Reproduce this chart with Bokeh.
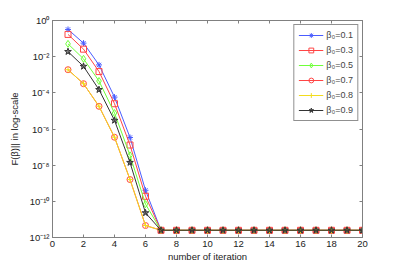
from bokeh.plotting import figure
from bokeh.models import (Range1d, FixedTicker, CustomJSTickFormatter, LinearAxis,
                          LogAxis)
from bokeh.embed import file_html
from bokeh.resources import INLINE

iterations = [1, 2, 3, 4, 5, 6, 7, 8, 9, 10, 11, 12, 13, 14, 15, 16, 17, 18, 19, 20]

f_beta_01 = [3.2e-1, 5.6e-2, 3.5e-3, 5.8e-5, 3.4e-7, 4.1e-10, 2.5e-12, 2.5e-12, 2.5e-12, 2.5e-12,
             2.5e-12, 2.5e-12, 2.5e-12, 2.5e-12, 2.5e-12, 2.5e-12, 2.5e-12, 2.5e-12, 2.5e-12, 2.5e-12]
f_beta_03 = [1.7e-1, 2.6e-2, 1.5e-3, 2.5e-5, 1.3e-7, 1.9e-10, 2.5e-12, 2.5e-12, 2.5e-12, 2.5e-12,
             2.5e-12, 2.5e-12, 2.5e-12, 2.5e-12, 2.5e-12, 2.5e-12, 2.5e-12, 2.5e-12, 2.5e-12, 2.5e-12]
f_beta_05 = [5.1e-2, 7.6e-3, 4.5e-4, 7.6e-6, 3.5e-8, 7.0e-11, 2.5e-12, 2.5e-12, 2.5e-12, 2.5e-12,
             2.5e-12, 2.5e-12, 2.5e-12, 2.5e-12, 2.5e-12, 2.5e-12, 2.5e-12, 2.5e-12, 2.5e-12, 2.5e-12]
f_beta_07 = [1.9e-3, 3.2e-4, 1.8e-5, 3.5e-7, 1.6e-9, 4.6e-12, 2.5e-12, 2.5e-12, 2.5e-12, 2.5e-12,
             2.5e-12, 2.5e-12, 2.5e-12, 2.5e-12, 2.5e-12, 2.5e-12, 2.5e-12, 2.5e-12, 2.5e-12, 2.5e-12]
f_beta_08 = [1.9e-3, 3.2e-4, 1.8e-5, 3.5e-7, 1.6e-9, 4.6e-12, 2.5e-12, 2.5e-12, 2.5e-12, 2.5e-12,
             2.5e-12, 2.5e-12, 2.5e-12, 2.5e-12, 2.5e-12, 2.5e-12, 2.5e-12, 2.5e-12, 2.5e-12, 2.5e-12]
f_beta_09 = [1.9e-2, 2.9e-3, 1.5e-4, 3.0e-6, 1.4e-8, 2.3e-11, 2.5e-12, 2.5e-12, 2.5e-12, 2.5e-12,
             2.5e-12, 2.5e-12, 2.5e-12, 2.5e-12, 2.5e-12, 2.5e-12, 2.5e-12, 2.5e-12, 2.5e-12, 2.5e-12]

labels = ["β₀=0.1", "β₀=0.3", "β₀=0.5", "β₀=0.7", "β₀=0.8", "β₀=0.9"]
x_ticks = [0, 2, 4, 6, 8, 10, 12, 14, 16, 18, 20]
y_ticks = [1e0, 1e-2, 1e-4, 1e-6, 1e-8, 1e-10, 1e-12]

FONT = "Liberation Sans"
AXC = "#808080"

p = figure(width=399, height=268, output_backend="svg", toolbar_location=None,
           y_axis_type="log", x_range=Range1d(0, 20), y_range=Range1d(1e-12, 1),
           min_border_left=52, min_border_right=37, min_border_top=20, min_border_bottom=31)
p.xgrid.visible = False
p.ygrid.visible = False
p.outline_line_color = AXC
p.background_fill_color = "white"
p.border_fill_color = "white"

sup = CustomJSTickFormatter(code="""
const m = {'-':'\u207b','0':'\u2070','1':'\u00b9','2':'\u00b2','3':'\u00b3','4':'\u2074',
           '5':'\u2075','6':'\u2076','7':'\u2077','8':'\u2078','9':'\u2079'};
const e = Math.round(Math.log10(tick)).toString();
let s = '';
for (const c of e) { s += m[c]; }
return '10' + s;
""")

def style_axis(ax, show_labels=True):
    ax.axis_line_color = AXC
    ax.major_tick_line_color = AXC
    ax.minor_tick_line_color = None
    ax.major_tick_in = 3
    ax.major_tick_out = 0
    ax.major_label_text_font = FONT
    ax.major_label_text_font_size = "9.5px"
    ax.major_label_text_color = "#222222"
    ax.axis_label_text_font = FONT
    ax.axis_label_text_font_size = "9.5px"
    ax.axis_label_text_font_style = "normal"
    ax.axis_label_text_color = "#222222"
    if not show_labels:
        ax.major_label_text_font_size = "1px"
        ax.major_label_text_alpha = 0
        ax.major_label_standoff = 0

style_axis(p.xaxis[0])
style_axis(p.yaxis[0])
p.xaxis[0].ticker = FixedTicker(ticks=x_ticks)
p.yaxis[0].ticker = FixedTicker(ticks=y_ticks)
p.yaxis[0].formatter = sup
p.xaxis[0].major_label_standoff = 3
p.yaxis[0].major_label_standoff = 3
p.xaxis[0].axis_label = "number of iteration"
p.yaxis[0].axis_label = "F(β)|| in log-scale"
p.xaxis[0].axis_label_standoff = 1
p.yaxis[0].axis_label_standoff = 7

top = LinearAxis(ticker=FixedTicker(ticks=x_ticks))
style_axis(top, show_labels=False)
p.add_layout(top, "above")
right = LogAxis(ticker=FixedTicker(ticks=y_ticks))
style_axis(right, show_labels=False)
p.add_layout(right, "right")

series = [
    (f_beta_01, "#4a5cff", "asterisk", "#4a5cff", 6),
    (f_beta_03, "#ff4545", "square", None, 6),
    (f_beta_05, "#70ff3a", "diamond", None, 7),
    (f_beta_07, "#ff4545", "circle", None, 6),
    (f_beta_08, "#f2dc1e", "cross", "#f2dc1e", 6),
    (f_beta_09, "#333333", "star", "#333333", 7),
]

for (vals, col, mk, fill, sz), lab in zip(series, labels):
    p.line(iterations, vals, line_color=col, line_width=1, legend_label=lab)
    p.scatter(iterations, vals, marker=mk, size=sz, line_color=col,
              fill_color=fill if fill else "white", fill_alpha=0.6 if fill else 0,
              line_width=1, legend_label=lab)

lg = p.legend[0]
lg.location = "top_right"
lg.border_line_color = "#222222"
lg.border_line_width = 1
lg.label_text_font = FONT
lg.label_text_font_size = "9px"
lg.label_height = 12
lg.glyph_height = 12
lg.glyph_width = 25
lg.spacing = 3
lg.padding = 4
lg.margin = 4
lg.label_standoff = 3
lg.background_fill_alpha = 1

open("out.html", "w").write(file_html(p, INLINE))
